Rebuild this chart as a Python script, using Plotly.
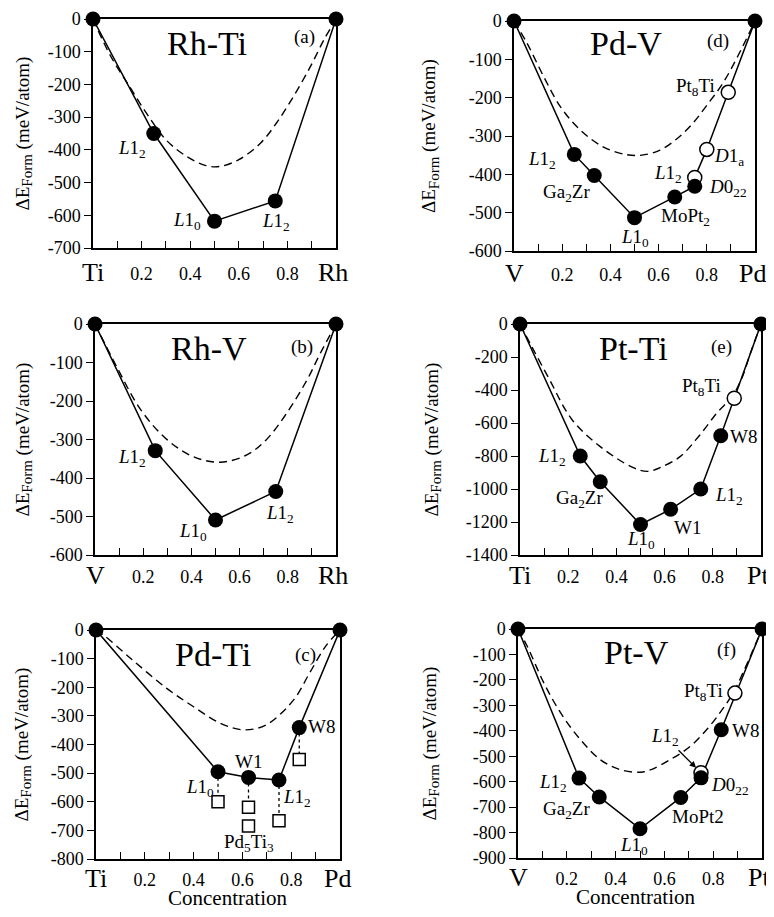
import plotly.graph_objects as go

OFF = 8  # page margin of the browser body
W, H = 774 - OFF, 917 - 2 * OFF
SERIF = "Liberation Serif, Times New Roman, serif"

L12 = "<i>L</i>1<sub>2</sub>"
L10 = "<i>L</i>1<sub>0</sub>"
D022 = "<i>D</i>0<sub>22</sub>"
D1A = "<i>D</i>1<sub>a</sub>"
GA2ZR = "Ga<sub>2</sub>Zr"
PT8TI = "Pt<sub>8</sub>Ti"

# (a) Rh-Ti
a_line_x = [0, 0.25, 0.5, 0.75, 1]
a_line_y = [0, -350, -618, -556, 0]
a_names = ["", L12, L10, L12, ""]
a_dash_x = [0, 0.07, 0.15, 0.22, 0.30, 0.385, 0.465, 0.52, 0.60, 0.69, 0.755, 0.825, 0.895, 0.95, 1]
a_dash_y = [0, -110, -206, -288, -369, -420, -448, -451, -430, -379, -318, -237, -145, -64, 0]
a_ends = ["Ti", "Rh"]

# (b) Rh-V
b_line_x = [0, 0.25, 0.5, 0.75, 1]
b_line_y = [0, -329, -509, -435, 0]
b_names = ["", L12, L10, L12, ""]
b_dash_x = [0, 0.09, 0.19, 0.30, 0.41, 0.52, 0.63, 0.71, 0.795, 0.88, 0.935, 1]
b_dash_y = [0, -111, -223, -301, -345, -359, -340, -301, -232, -145, -76, 0]
b_ends = ["V", "Rh"]

# (c) Pd-Ti
c_line_x = [0, 0.5, 0.625, 0.75, 0.833, 1]
c_line_y = [0, -495, -515, -524, -341, 0]
c_names = ["", L10, "W1", L12, "W8", ""]
c_sq_x = [0.5, 0.625, 0.625, 0.75, 0.833]
c_sq_y = [-600, -619, -685, -666, -452]
c_sq_names = ["", "", "Pd<sub>5</sub>Ti<sub>3</sub>", "", ""]
c_drop_x = [0.5, 0.625, 0.75, 0.833]
c_drop_top = [-495, -515, -524, -341]
c_drop_bot = [-600, -619, -666, -452]
c_dash_x = [0, 0.03, 0.15, 0.29, 0.40, 0.51, 0.61, 0.70, 0.81, 0.875, 0.94, 1]
c_dash_y = [0, -17, -105, -204, -268, -326, -349, -330, -244, -151, -58, 0]
c_ends = ["Ti", "Pd"]

# (d) Pd-V
d_line_x = [0, 0.25, 0.333, 0.5, 0.667, 0.75, 0.75, 0.8, 0.889, 1]
d_line_y = [0, -348, -403, -513, -459, -431, -408, -335, -186, 0]
d_fill_x = [0, 0.25, 0.333, 0.5, 0.667, 0.75, 1]
d_fill_y = [0, -348, -403, -513, -459, -431, 0]
d_open_x = [0.75, 0.8, 0.889]
d_open_y = [-408, -335, -186]
d_names = ["", L12, GA2ZR, L10, "MoPt<sub>2</sub>", D022, L12, D1A, PT8TI, ""]
d_dash_x = [0, 0.055, 0.124, 0.193, 0.276, 0.372, 0.469, 0.53, 0.606, 0.68, 0.742, 0.80, 0.866, 0.93, 1]
d_dash_y = [0, -59, -146, -224, -285, -329, -349, -350, -337, -305, -267, -220, -163, -90, 0]
d_ends = ["V", "Pd"]

# (e) Pt-Ti
e_line_x = [0, 0.25, 0.333, 0.5, 0.625, 0.75, 0.833, 1]
e_line_y = [0, -800, -956, -1215, -1123, -1000, -677, 0]
e_names = ["", L12, GA2ZR, L10, "W1", L12, "W8", ""]
e_open_x = [0.889]
e_open_y = [-450]
e_open_names = [PT8TI]
e_dash_x = [0, 0.05, 0.12, 0.216, 0.333, 0.47, 0.53, 0.581, 0.664, 0.747, 0.818, 0.88, 0.92, 0.96, 1]
e_dash_y = [0, -140, -330, -580, -743, -871, -893, -871, -804, -671, -537, -440, -330, -160, 0]
e_ends = ["Ti", "Pt"]

# (f) Pt-V
f_line_x = [0, 0.25, 0.333, 0.5, 0.667, 0.75, 0.833, 1]
f_line_y = [0, -586, -660, -785, -662, -585, -396, 0]
f_names = ["", L12, GA2ZR, L10, "MoPt2", D022, "W8", ""]
f_open_x = [0.75, 0.889]
f_open_y = [-565, -252]
f_open_names = [L12, PT8TI]
f_dash_x = [0, 0.038, 0.106, 0.175, 0.256, 0.338, 0.42, 0.502, 0.542, 0.623, 0.705, 0.779, 0.836, 0.882, 0.922, 0.96, 1]
f_dash_y = [0, -68, -212, -330, -435, -514, -553, -563, -554, -514, -462, -389, -318, -251, -172, -90, 0]
f_ends = ["V", "Pt"]

fig = go.Figure()
annotations = []


def px(x, y):
    return (x - OFF) / W, 1 - (y - OFF) / H


def refs(n):
    s = "" if n == 1 else str(n)
    return "x" + s, "y" + s, "xaxis" + s, "yaxis" + s


def text(x, y, t, size, **kw):
    tx, ty = px(x, y)
    annotations.append(dict(x=tx, y=ty, xref="paper", yref="paper", text=t, showarrow=False,
                            xanchor="center", yanchor="middle",
                            font=dict(family=SERIF, size=size, color="black"), **kw))


def panel(n, box, ymin, ystep, ends, name, name_at, letter, letter_at, ytitle_x, drop=19,
          xtitle=None):
    xr, yr, xk, yk = refs(n)
    x0, y0 = px(box[0], box[3])
    x1, y1 = px(box[2], box[1])
    yvals = list(range(ymin, 1, ystep))
    xvals = [round(0.1 * i, 1) for i in range(1, 10)]
    common = dict(showline=True, linecolor="black", linewidth=1.5, mirror=True, automargin=False,
                  showgrid=False, zeroline=False, tickcolor="black", tickwidth=1.2,
                  ticklen=7, tickfont=dict(family=SERIF, size=18, color="black"))
    fig.update_layout({
        xk: dict(common, domain=[x0, x1], range=[0, 1], anchor=yr,
                 tickmode="array", tickvals=xvals,
                 ticktext=[f"{v:.1f}" if i % 2 == 1 else "" for i, v in enumerate(xvals)],
                 ticks="inside", ticklabelstandoff=drop - 14),
        yk: dict(common, domain=[y0, y1], range=[ymin, 0], anchor=xr,
                 tickmode="array", tickvals=yvals, ticktext=[str(v) for v in yvals],
                 ticks="outside"),
    })
    for xe, t, sh in zip([0, 1], ends, [0, -3]):
        annotations.append(dict(x=xe, y=0, xref=xr, yref=yr + " domain", text=t,
                                showarrow=False, xanchor="center", yanchor="middle",
                                xshift=sh, yshift=-drop - 1,
                                font=dict(family=SERIF, size=26, color="black")))
    text(*name_at, name, 34)
    text(*letter_at, letter, 19)
    text(ytitle_x, (box[1] + box[3]) / 2,
         "\u0394E<sub><span style='font-size:15px'>Form</span></sub> (meV/atom)", 19, textangle=-90)
    if xtitle:
        text(*xtitle, "Concentration", 21)


def curve(n, xs, ys, dash=None, width=1.5, smooth=False):
    xr, yr, _, _ = refs(n)
    fig.add_trace(go.Scatter(x=xs, y=ys, xaxis=xr, yaxis=yr, mode="lines",
                             line=dict(color="black", width=width, dash=dash,
                                       shape="spline" if smooth else "linear"),
                             showlegend=False, hoverinfo="skip", cliponaxis=False))


def dots(n, xs, ys, symbol="circle", filled=True, size=15):
    xr, yr, _, _ = refs(n)
    fig.add_trace(go.Scatter(x=xs, y=ys, xaxis=xr, yaxis=yr, mode="markers",
                             marker=dict(symbol=symbol, size=size,
                                         color="black" if filled else "white",
                                         line=dict(color="black", width=0 if filled else 1.5)),
                             showlegend=False, cliponaxis=False))


def labels(n, xs, ys, names, offs, size=19):
    xr, yr, _, _ = refs(n)
    for x, y, t, (dx, dy) in zip(xs, ys, names, offs):
        if not t:
            continue
        annotations.append(dict(x=x, y=y, xref=xr, yref=yr, text=t, showarrow=False,
                                xanchor="center", yanchor="middle", xshift=dx, yshift=-dy,
                                font=dict(family=SERIF, size=size, color="black")))


DASH = "8px,5px"

# (a)
panel(1, (93, 19, 336, 248), -700, 100, a_ends, "Rh-Ti", (207, 43), "(a)", (304, 37), 23, drop=23)
curve(1, a_dash_x, a_dash_y, DASH, 1.4, True)
curve(1, a_line_x, a_line_y)
dots(1, a_line_x, a_line_y)
labels(1, a_line_x, a_line_y, a_names, [(0, 0), (-22, 15), (-28, 0), (1, 21), (0, 0)])

# (b)
panel(2, (95, 324, 336, 555), -600, 100, b_ends, "Rh-V", (209, 348), "(b)", (302, 347), 23)
curve(2, b_dash_x, b_dash_y, DASH, 1.4, True)
curve(2, b_line_x, b_line_y)
dots(2, b_line_x, b_line_y)
labels(2, b_line_x, b_line_y, b_names, [(0, 0), (-23, 7), (-23, 12), (4, 23), (0, 0)])

# (c)
panel(3, (96, 630, 340, 859), -800, 100, c_ends, "Pd-Ti", (213, 654), "(c)", (305, 655), 22,
      drop=18, xtitle=(227, 898))
curve(3, c_dash_x, c_dash_y, DASH, 1.4, True)
for xd, yt, yb in zip(c_drop_x, c_drop_top, c_drop_bot):
    curve(3, [xd, xd], [yt, yb], dash="dot", width=1.3)
curve(3, c_line_x, c_line_y)
dots(3, c_sq_x, c_sq_y, symbol="square", filled=False, size=12)
dots(3, c_line_x, c_line_y)
labels(3, c_line_x, c_line_y, c_names, [(0, 0), (-18, 16), (0, -16), (18, 18), (22, -1), (0, 0)])
labels(3, c_sq_x, c_sq_y, c_sq_names, [(0, 0), (0, 0), (0, 17), (0, 0), (0, 0)])

# (d)
panel(4, (514, 21, 755, 251), -600, 100, d_ends, "Pd-V", (626, 43), "(d)", (718, 41), 430, drop=21)
curve(4, d_dash_x, d_dash_y, DASH, 1.4, True)
curve(4, d_line_x, d_line_y)
dots(4, d_open_x, d_open_y, filled=False, size=14)
dots(4, d_fill_x, d_fill_y)
labels(4, d_line_x, d_line_y, d_names,
       [(0, 0), (-32, 6), (-28, 18), (0, 20), (11, 20), (33, 2), (-27, -3), (22, 8), (-33, -5), (0, 0)])

# (e)
panel(5, (520, 324, 761, 555), -1400, 200, e_ends, "Pt-Ti", (633, 348), "(e)", (721, 347), 432)
curve(5, e_dash_x, e_dash_y, DASH, 1.4, True)
curve(5, e_line_x, e_line_y)
dots(5, e_open_x, e_open_y, filled=False, size=14)
dots(5, e_line_x, e_line_y)
labels(5, e_line_x, e_line_y, e_names,
       [(0, 0), (-28, 1), (-21, 17), (0, 16), (17, 18), (28, 7), (23, 1), (0, 0)])
labels(5, e_open_x, e_open_y, e_open_names, [(-33, -11)])

# (f)
panel(6, (518, 629, 762, 858), -900, 100, f_ends, "Pt-V", (636, 652), "(f)", (726, 650), 430,
      drop=18, xtitle=(635, 897))
curve(6, f_dash_x, f_dash_y, DASH, 1.4, True)
curve(6, f_line_x, f_line_y)
dots(6, f_open_x, f_open_y, filled=False, size=14)
dots(6, f_line_x, f_line_y)
labels(6, f_line_x, f_line_y, f_names,
       [(0, 0), (-26, 5), (-33, 13), (-6, 17), (17, 19), (29, 8), (24, 1), (0, 0)])
labels(6, f_open_x[1:], f_open_y[1:], f_open_names[1:], [(-31, -1)])
annotations.append(dict(x=f_open_x[0], y=f_open_y[0], xref="x6", yref="y6", text=f_open_names[0],
                        showarrow=True, arrowhead=2, arrowsize=1, arrowwidth=1.3,
                        arrowcolor="black", ax=-36, ay=-36, standoff=7,
                        font=dict(family=SERIF, size=19, color="black")))

fig.update_layout(width=W, height=H, margin=dict(l=0, r=0, t=0, b=0, pad=0),
                  paper_bgcolor="white", plot_bgcolor="white", showlegend=False,
                  annotations=annotations)
fig.write_html("out.html")
